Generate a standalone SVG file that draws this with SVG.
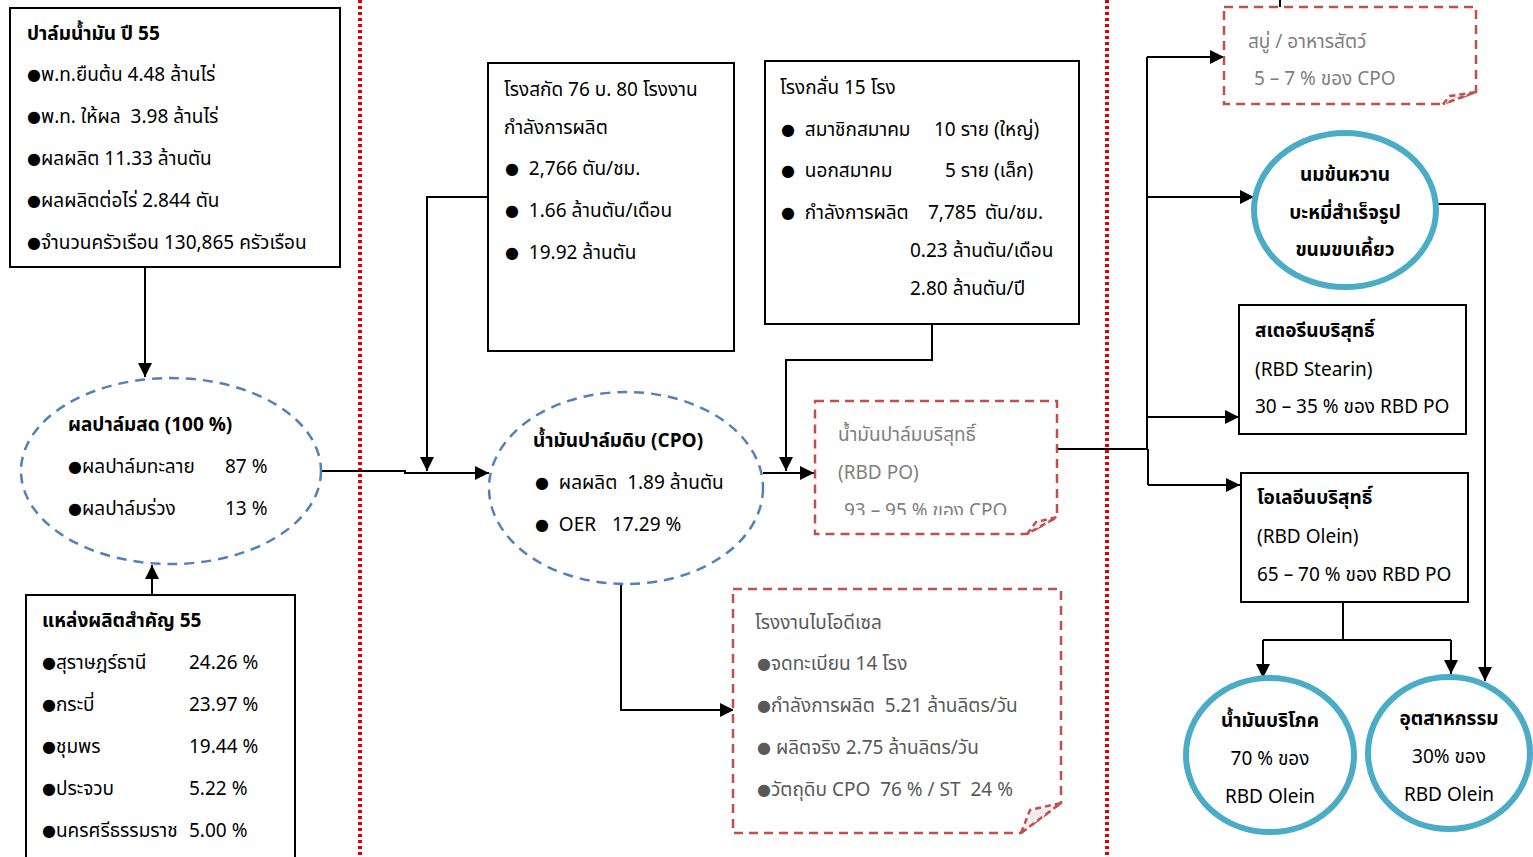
<svg xmlns="http://www.w3.org/2000/svg" width="1533" height="857" viewBox="0 0 1533 857">
<defs>
<style>
text{font-family:"Noto Sans Thai","Noto Sans","DejaVu Sans",sans-serif;font-size:19px;fill:#000;white-space:pre}
.b{font-weight:bold}
.g{fill:#808080}
.dg{fill:#595959}
.bl{font-size:16px;baseline-shift:1px}
.box{fill:#fff;stroke:#000;stroke-width:2}
.note{fill:#fff;stroke:#c0504d;stroke-width:2.5;stroke-dasharray:9 6}
.fold{fill:#eee;stroke:#c0504d;stroke-width:2.5;stroke-dasharray:6 4}
.ell{fill:#fff;stroke:#4f81bd;stroke-width:2.5;stroke-dasharray:10 7}
.circ{fill:#fff;stroke:#4bacc6;stroke-width:6}
.sep{stroke:#e00000;stroke-width:4;stroke-dasharray:3 3;fill:none}
.c{fill:none;stroke:#000;stroke-width:2}
.m{text-anchor:middle}
</style>
<marker id="ah" viewBox="0 0 10 10" refX="10" refY="5" markerWidth="7" markerHeight="7" orient="auto" markerUnits="strokeWidth">
<path d="M0,0 L10,5 L0,10 Z" fill="#000"/>
</marker>
<clipPath id="clipRbd"><rect x="815" y="401" width="242" height="114"/></clipPath>
</defs>
<rect width="1533" height="857" fill="#fff"/>

<g id="separators">
<line class="sep" x1="360" y1="0" x2="360" y2="857"/>
<line class="sep" x1="1107" y1="0" x2="1107" y2="857"/>
</g>

<g id="connectors">
<path class="c" d="M145,267 V377" marker-end="url(#ah)"/>
<path class="c" d="M152,595 V565" marker-end="url(#ah)"/>
<path class="c" d="M321,471 H405 V473 H489" marker-end="url(#ah)"/>
<path class="c" d="M488,197 H427 V471" marker-end="url(#ah)"/>
<path class="c" d="M621,584 V710 H734" marker-end="url(#ah)"/>
<path class="c" d="M763,473 H814" marker-end="url(#ah)"/>
<path class="c" d="M932,324 V360 H786 V471" marker-end="url(#ah)"/>
<path class="c" d="M1057,449 H1147"/>
<path class="c" d="M1147,57 V449 M1148,449 V485"/>
<path class="c" d="M1147,57 H1224" marker-end="url(#ah)"/>
<path class="c" d="M1147,197 H1254" marker-end="url(#ah)"/>
<path class="c" d="M1147,417 H1239" marker-end="url(#ah)"/>
<path class="c" d="M1148,485 H1240" marker-end="url(#ah)"/>
<path class="c" d="M1280,0 V7"/>
<path class="c" d="M1437,204 H1485 V681" marker-end="url(#ah)"/>
<path class="c" d="M1343,602 V640 M1263,640 H1451 M1263,640 V678" marker-end="url(#ah)"/>
<path class="c" d="M1451,640 V674" marker-end="url(#ah)"/>
</g>

<g id="palm-oil-55">
<rect class="box" x="10" y="8" width="330" height="259"/>
<text class="b" x="27" y="40">ปาล์มน้ำมัน ปี 55</text>
<text x="27" y="81"><tspan class="bl">●</tspan>พ.ท.ยืนต้น 4.48 ล้านไร่</text>
<text x="27" y="123"><tspan class="bl">●</tspan>พ.ท. ให้ผล  3.98 ล้านไร่</text>
<text x="27" y="165"><tspan class="bl">●</tspan>ผลผลิต 11.33 ล้านตัน</text>
<text x="27" y="207"><tspan class="bl">●</tspan>ผลผลิตต่อไร่ 2.844 ตัน</text>
<text x="27" y="249"><tspan class="bl">●</tspan>จำนวนครัวเรือน 130,865 ครัวเรือน</text>
</g>

<g id="fresh-fruit">
<ellipse class="ell" cx="171" cy="471" rx="150" ry="93"/>
<text class="b" x="68" y="431">ผลปาล์มสด (100 %)</text>
<text x="68" y="473"><tspan class="bl">●</tspan>ผลปาล์มทะลาย</text>
<text x="225" y="473">87 %</text>
<text x="68" y="515"><tspan class="bl">●</tspan>ผลปาล์มร่วง</text>
<text x="225" y="515">13 %</text>
</g>

<g id="sources-55">
<path class="box" d="M26,857 V595 H295 V857"/>
<text class="b" x="42" y="627">แหล่งผลิตสำคัญ 55</text>
<text x="42" y="669"><tspan class="bl">●</tspan>สุราษฎร์ธานี</text><text x="189" y="669">24.26 %</text>
<text x="42" y="711"><tspan class="bl">●</tspan>กระบี่</text><text x="189" y="711">23.97 %</text>
<text x="42" y="753"><tspan class="bl">●</tspan>ชุมพร</text><text x="189" y="753">19.44 %</text>
<text x="42" y="795"><tspan class="bl">●</tspan>ประจวบ</text><text x="189" y="795">5.22 %</text>
<text x="42" y="837"><tspan class="bl">●</tspan>นครศรีธรรมราช</text><text x="189" y="837">5.00 %</text>
</g>

<g id="crushing-mills">
<rect class="box" x="488" y="63" width="246" height="288"/>
<text x="504" y="96">โรงสกัด 76 บ. 80 โรงงาน</text>
<text x="504" y="134">กำลังการผลิต</text>
<text x="505" y="175"><tspan class="bl">●</tspan>  2,766 ตัน/ชม.</text>
<text x="505" y="217"><tspan class="bl">●</tspan>  1.66 ล้านตัน/เดือน</text>
<text x="505" y="259"><tspan class="bl">●</tspan>  19.92 ล้านตัน</text>
</g>

<g id="cpo">
<ellipse class="ell" cx="626" cy="488" rx="137" ry="96"/>
<text class="b" x="533" y="447">น้ำมันปาล์มดิบ (CPO)</text>
<text x="535" y="489"><tspan class="bl">●</tspan>  ผลผลิต  1.89 ล้านตัน</text>
<text x="535" y="531"><tspan class="bl">●</tspan>  OER</text>
<text x="612" y="531">17.29 %</text>
</g>

<g id="refineries">
<rect class="box" x="765" y="61" width="314" height="263"/>
<text x="780" y="94">โรงกลั่น 15 โรง</text>
<text x="781" y="136"><tspan class="bl">●</tspan>  สมาชิกสมาคม</text><text x="934" y="136">10 ราย (ใหญ่)</text>
<text x="781" y="177"><tspan class="bl">●</tspan>  นอกสมาคม</text><text x="945" y="177">5 ราย (เล็ก)</text>
<text x="781" y="219"><tspan class="bl">●</tspan>  กำลังการผลิต</text><text x="928" y="219">7,785</text><text x="985" y="219">ตัน/ชม.</text>
<text x="910" y="257">0.23 ล้านตัน/เดือน</text>
<text x="910" y="295">2.80 ล้านตัน/ปี</text>
</g>

<g id="rbd-po">
<path class="note" d="M815,401 H1057 V517 L1027,534 H815 Z"/>
<path class="fold" d="M1027,534 L1036,522 L1057,517 Z"/>
<text class="g" x="838" y="441">น้ำมันปาล์มบริสุทธิ์</text>
<text class="g" x="838" y="479">(RBD PO)</text>
<text class="g" x="844" y="517" clip-path="url(#clipRbd)">93 – 95 % ของ CPO</text>
</g>

<g id="biodiesel">
<path class="note" d="M733,589 H1061 V803 L1021,833 H733 Z"/>
<path class="fold" d="M1021,833 L1030,810 L1061,803 Z"/>
<text class="dg" x="755" y="629">โรงงานไบโอดีเซล</text>
<text class="dg" x="757" y="670"><tspan class="bl">●</tspan>จดทะเบียน 14 โรง</text>
<text class="dg" x="757" y="712"><tspan class="bl">●</tspan>กำลังการผลิต  5.21 ล้านลิตร/วัน</text>
<text class="dg" x="757" y="754"><tspan class="bl">●</tspan> ผลิตจริง 2.75 ล้านลิตร/วัน</text>
<text class="dg" x="757" y="796"><tspan class="bl">●</tspan>วัตถุดิบ CPO  76 % / ST  24 %</text>
</g>

<g id="soap-feed">
<path class="note" d="M1224,7 H1476 V92 L1443,104 H1224 Z"/>
<path class="fold" d="M1443,104 L1450,96 L1476,92 Z"/>
<text class="g" x="1248" y="48">สบู่ / อาหารสัตว์</text>
<text class="g" x="1254" y="85">5 – 7 % ของ CPO</text>
</g>

<g id="condensed-milk">
<ellipse class="circ" cx="1345" cy="210" rx="91" ry="77"/>
<text class="b m" x="1345" y="181">นมข้นหวาน</text>
<text class="b m" x="1345" y="219">บะหมี่สำเร็จรูป</text>
<text class="b m" x="1345" y="256">ขนมขบเคี้ยว</text>
</g>

<g id="stearin">
<rect class="box" x="1239" y="305" width="227" height="129"/>
<text class="b" x="1255" y="337">สเตอรีนบริสุทธิ์</text>
<text x="1255" y="376">(RBD Stearin)</text>
<text x="1255" y="413">30 – 35 % ของ RBD PO</text>
</g>

<g id="olein">
<rect class="box" x="1241" y="473" width="227" height="129"/>
<text class="b" x="1257" y="504">โอเลอีนบริสุทธิ์</text>
<text x="1257" y="543">(RBD Olein)</text>
<text x="1257" y="581">65 – 70 % ของ RBD PO</text>
</g>

<g id="edible-oil">
<ellipse class="circ" cx="1270" cy="755" rx="84" ry="77"/>
<text class="b m" x="1270" y="727">น้ำมันบริโภค</text>
<text class="m" x="1270" y="765">70 % ของ</text>
<text class="m" x="1270" y="803">RBD Olein</text>
</g>

<g id="industry">
<ellipse class="circ" cx="1449" cy="753" rx="81" ry="76"/>
<text class="b m" x="1449" y="725">อุตสาหกรรม</text>
<text class="m" x="1449" y="763">30% ของ</text>
<text class="m" x="1449" y="801">RBD Olein</text>
</g>
</svg>
